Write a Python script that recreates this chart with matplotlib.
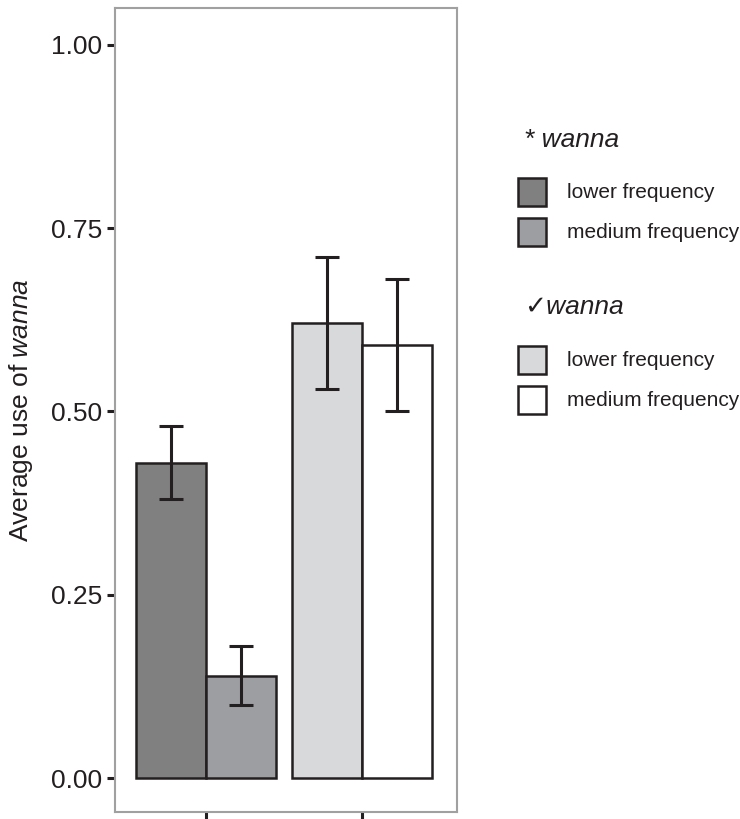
import numpy as np
import matplotlib
matplotlib.use('Agg')
import matplotlib.pyplot as plt
from matplotlib.patches import Rectangle

# data
groups = ['* wanna', '✓wanna']
freq = ['lower frequency', 'medium frequency']
means = [[0.43, 0.14], [0.62, 0.59]]
lows = [[0.38, 0.10], [0.53, 0.50]]
highs = [[0.48, 0.18], [0.71, 0.68]]
colors = [['#808080', '#9d9ea2'], ['#d8d9db', '#ffffff']]
yticks = [0.0, 0.25, 0.5, 0.75, 1.0]

plt.rcParams['font.family'] = ['Liberation Sans', 'DejaVu Sans']
plt.rcParams['mathtext.fontset'] = 'custom'
plt.rcParams['mathtext.it'] = 'Liberation Sans:italic'
plt.rcParams['mathtext.rm'] = 'Liberation Sans'

edge = '#231f20'
W, H = 740, 819
fig = plt.figure(figsize=(W / 100, H / 100), dpi=100)
ax = fig.add_axes([115/W, 1 - 812/H, 342/W, 804/H])

w = 0.45
for gi in range(len(groups)):
    for fi in range(len(freq)):
        x = gi + 1 + (fi - 0.5) * w
        m = means[gi][fi]
        ax.bar(x, m, width=w, color=colors[gi][fi], edgecolor=edge, linewidth=1.8, zorder=2)
        ax.errorbar(x, m, yerr=[[m - lows[gi][fi]], [highs[gi][fi] - m]], fmt='none',
                    ecolor=edge, elinewidth=2.2, capsize=8.5, capthick=2.2, zorder=3)

ax.set_xlim(0.415, 2.611)
ax.set_ylim(-0.046, 1.05)
ax.set_xticks([1, 2])
ax.set_xticklabels(['', ''])
ax.set_yticks(yticks)
ax.set_yticklabels(['%.2f' % v for v in yticks])
ax.tick_params(axis='both', length=6, width=2.2, color=edge, labelsize=19, labelcolor=edge, pad=3)
for s in ax.spines.values():
    s.set_color('#a0a0a0')
    s.set_linewidth(1.5)
ax.set_ylabel(r'Average use of $\it{wanna}$', fontsize=19, color=edge, labelpad=12)

# legend drawn by hand in pixel positions
title_y = [140, 307]
row_y = [[192, 232], [360, 400]]
for gi in range(len(groups)):
    fig.text(524/W, 1 - title_y[gi]/H, groups[gi], fontsize=19, style='italic', color=edge,
             va='center', ha='left', family=['Liberation Sans', 'DejaVu Sans'])
    for fi in range(len(freq)):
        yc = row_y[gi][fi]
        fig.patches.append(Rectangle((518/W, 1 - (yc + 14)/H), 28/W, 28/H,
                                     facecolor=colors[gi][fi], edgecolor=edge, linewidth=1.8,
                                     transform=fig.transFigure, figure=fig))
        fig.text(567/W, 1 - yc/H, freq[fi], fontsize=15, color=edge, va='center', ha='left')

fig.savefig('out.png', dpi=100)
